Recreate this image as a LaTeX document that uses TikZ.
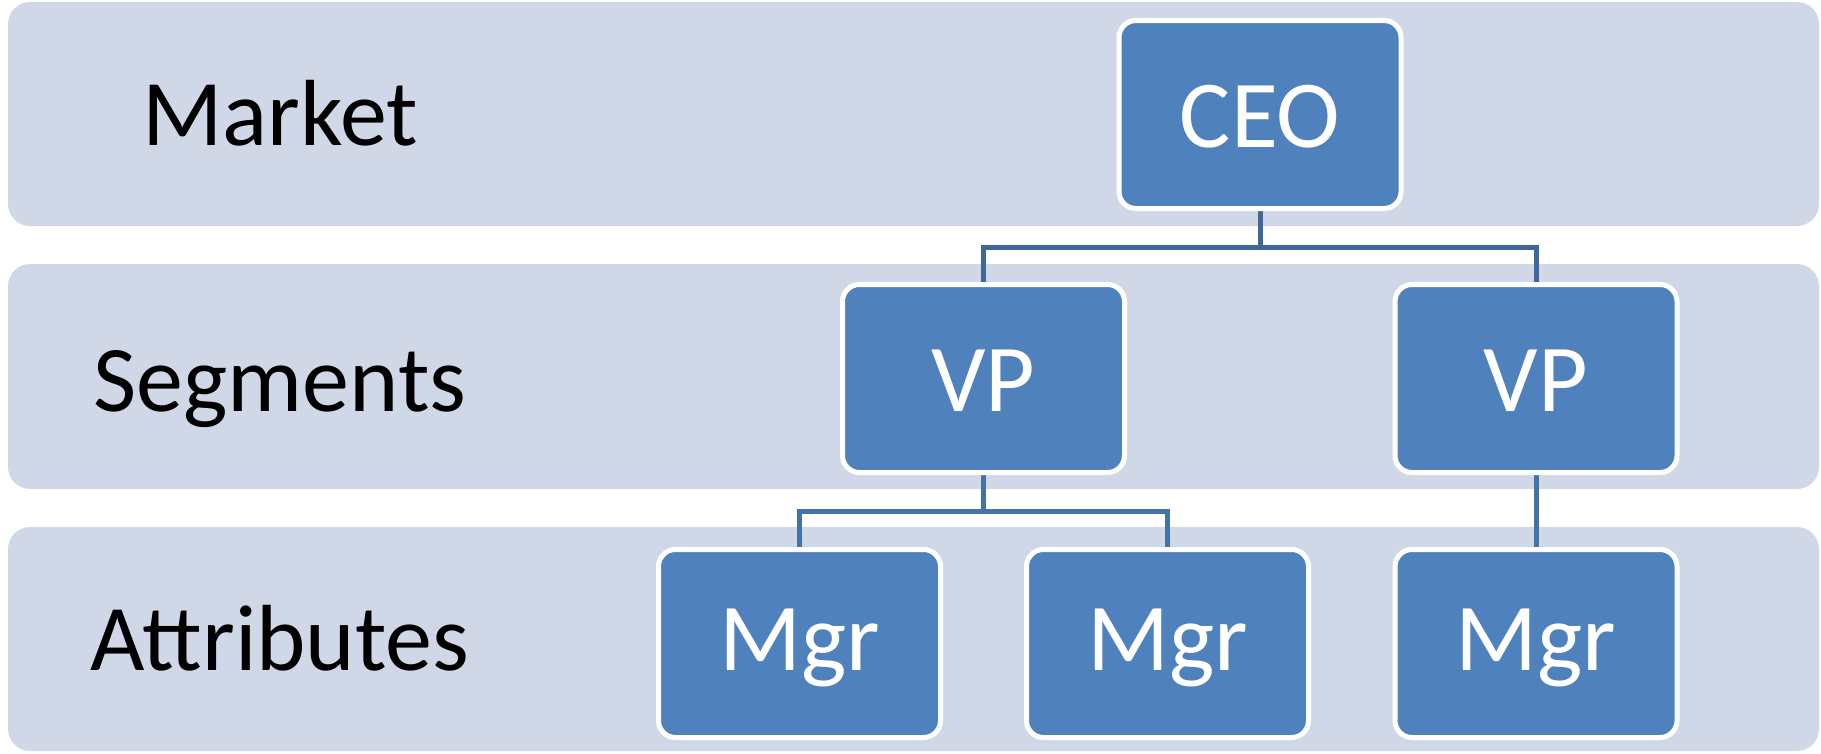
\documentclass[tikz,border=0pt]{standalone}
\usepackage{fontspec}
\setmainfont{Carlito}
\definecolor{bandfill}{HTML}{D0D8E8}
\definecolor{boxfill}{HTML}{4F81BD}
\definecolor{linkdark}{HTML}{3F6797}
\definecolor{linklight}{HTML}{4672AA}
\pgfdeclarelayer{back}
\pgfsetlayers{back,main}
\tikzset{
  band/.style={fill=bandfill, draw=none, rounded corners=22pt},
  rowlabel/.style={anchor=base, text=black, inner sep=0pt,
    font=\fontsize{94}{110}\selectfont},
  orgbox/.style={rectangle, rounded corners=17pt, fill=boxfill, draw=white,
    line width=5pt, minimum width=282pt, minimum height=188pt, inner sep=0pt,
    text=white, font=\fontsize{96}{110}\selectfont,
    text height=66pt, text depth=0pt},
  mgrbox/.style={orgbox, text height=54pt},
  topconn/.style={draw=linkdark, line width=5pt},
  lowconn/.style={draw=linklight, line width=5pt},
}
\begin{document}
\begin{tikzpicture}[x=1pt,y=-1pt]
  \useasboundingbox (0,0) rectangle (1821,753);

  % org chart boxes
  \node[orgbox] (ceo) at (1260,114.5) {CEO};
  \node[orgbox] (vpa) at (983.5,378.5) {VP};
  \node[orgbox] (vpb) at (1536,378.5) {VP};
  \node[mgrbox] (mgra) at (799.5,643.5) {Mgr};
  \node[mgrbox] (mgrb) at (1167.5,643.5) {Mgr};
  \node[mgrbox] (mgrc) at (1536,643.5) {Mgr};

  % row labels
  \node[rowlabel] (market) at (280,145) {Market};
  \node[rowlabel] (segments) at (280,411) {Segments};
  \node[rowlabel] (attributes) at (280,670) {Attributes};

  % bus lines of the tree
  \coordinate (busa) at (1260,247);
  \coordinate (busb) at (983.5,511);

  \begin{pgfonlayer}{back}
    % horizontal bands
    \fill[band] (8,2) rectangle (1819,226);
    \fill[band] (8,264) rectangle (1819,489);
    \fill[band] (8,527) rectangle (1819,751);
    % connectors
    \draw[topconn] (ceo.south) -- (ceo.south |- busa) -| (vpa.north);
    \draw[topconn] (ceo.south |- busa) -| (vpb.north);
    \draw[lowconn] (vpa.south) -- (vpa.south |- busb) -| (mgra.north);
    \draw[lowconn] (vpa.south |- busb) -| (mgrb.north);
    \draw[lowconn] (vpb.south) -- (mgrc.north);
  \end{pgfonlayer}
\end{tikzpicture}
\end{document}
